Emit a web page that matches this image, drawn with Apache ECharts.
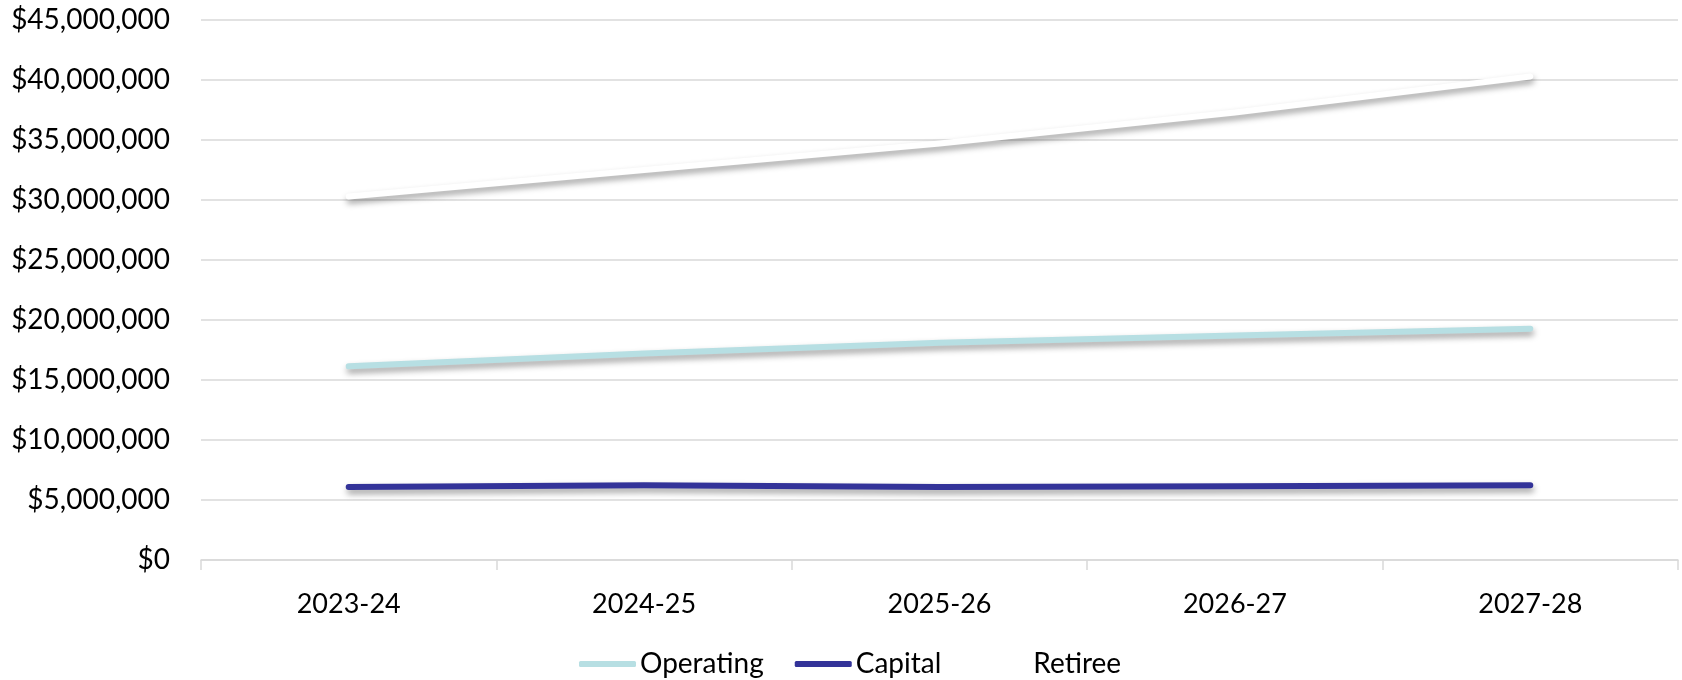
<!DOCTYPE html>
<html>
<head>
<meta charset="utf-8">
<script src="https://cdn.jsdelivr.net/npm/echarts@6/dist/echarts.min.js"></script>
<style>
  html, body { margin: 0; padding: 0; background: #fff; }
  #chart { width: 1682px; height: 680px; }
</style>
</head>
<body>
<div id="chart"></div>
<script>
// fiscal years on the x axis
const years = ['2023-24', '2024-25', '2025-26', '2026-27', '2027-28']

// series values in dollars
const operating = [16140000, 17200000, 18100000, 18700000, 19280000]
const capital = [6080000, 6220000, 6080000, 6140000, 6220000]
const retiree = [30300000, 32500000, 34700000, 37300000, 40300000]

const fontFamily = 'Lato, "Noto Sans", sans-serif'

const lineSeries = (name, data, color) => ({
  name,
  type: 'line',
  data,
  symbol: 'none',
  lineStyle: {
    color,
    width: 6,
    cap: 'round',
    join: 'round',
    shadowColor: 'rgba(0, 0, 0, 0.38)',
    shadowBlur: 6,
    shadowOffsetX: 1,
    shadowOffsetY: 4,
  },
  itemStyle: { color },
  emphasis: { disabled: true },
})

const chart = echarts.init(document.getElementById('chart'))

chart.setOption({
  animation: false,
  textStyle: { fontFamily },
  grid: {
    left: 201,
    right: 4,
    top: 20,
    bottom: 120,
  },
  xAxis: {
    type: 'category',
    data: years,
    boundaryGap: true,
    axisLine: { lineStyle: { color: '#d9d9d9', width: 1.5 } },
    axisTick: { show: true, length: 10, lineStyle: { color: '#d9d9d9', width: 1.5 } },
    axisLabel: { color: '#000', fontSize: 27, margin: 31, fontFamily },
  },
  yAxis: {
    type: 'value',
    min: 0,
    max: 45000000,
    interval: 5000000,
    axisLine: { show: false },
    axisTick: { show: false },
    splitLine: { lineStyle: { color: '#d9d9d9', width: 1.5 } },
    axisLabel: {
      color: '#000',
      fontSize: 28,
      margin: 31,
      fontFamily,
      formatter: v => '$' + v.toLocaleString('en-US'),
    },
  },
  legend: {
    left: 574,
    top: 645,
    icon: 'roundRect',
    itemWidth: 57,
    itemHeight: 6,
    itemGap: 31,
    textStyle: { color: '#000', fontSize: 28, fontFamily, padding: [0, 0, 0, -1] },
    itemStyle: {
      shadowBlur: 0,
      shadowColor: 'rgba(0,0,0,0)',
      shadowOffsetX: 0,
      shadowOffsetY: 0,
    },
    data: ['Operating', 'Capital', 'Retiree'],
  },
  series: [
    lineSeries('Operating', operating, '#b7dfe3'),
    lineSeries('Capital', capital, '#333399'),
    lineSeries('Retiree', retiree, '#ffffff'),
  ],
})
</script>
</body>
</html>
